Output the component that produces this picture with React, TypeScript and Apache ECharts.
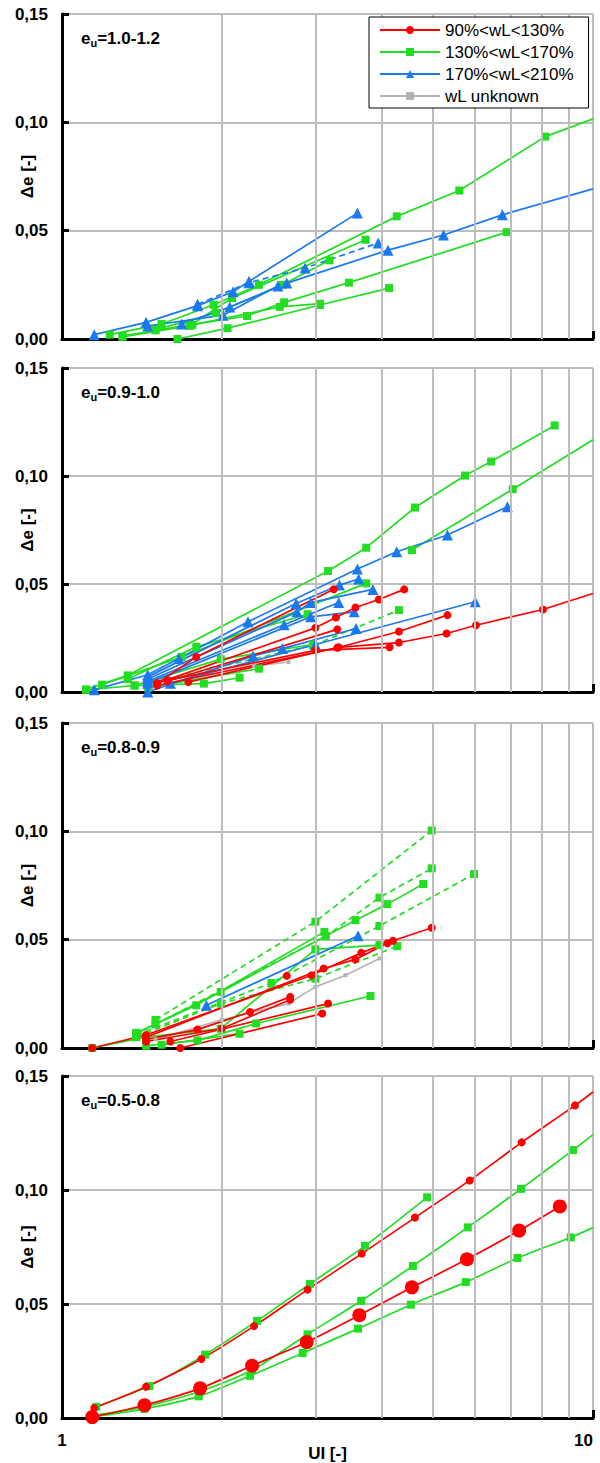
import React, { useEffect, useRef } from "react";
import * as echarts from "echarts";

type Pt = [number, number];

const CATS = ["90%<wL<130%", "130%<wL<170%", "170%<wL<210%", "wL unknown"];
const PANEL_TITLES = ["1.0-1.2", "0.9-1.0", "0.8-0.9", "0.5-0.8"];
const X_GRID = [2, 3, 4, 5, 6, 7, 8, 9];
const X_NAME = "UI [-]";
const Y_NAME = "Δe [-]";

// ---------- panel 1 : eu = 1.0-1.2 ----------
const p1Green: Pt[][] = [
  [[1.23, 0.002], [1.54, 0.0069], [1.93, 0.0158], [2.35, 0.025], [4.27, 0.0566], [5.6, 0.0685], [8.13, 0.0934], [10, 0.1016]],
  [[1.3, 0.001], [1.74, 0.0061], [2.09, 0.0189], [3.73, 0.0458]],
  [[1.5, 0.0043], [1.95, 0.012], [2.6, 0.025], [3.19, 0.0363]],
  [[1.5, 0.004], [2.23, 0.0106], [2.62, 0.0169], [3.47, 0.026], [6.88, 0.0493]],
  [[1.65, 0.0], [2.05, 0.005], [3.06, 0.0157], [4.13, 0.0235]],
  [[1.3, 0.0015], [1.76, 0.0065], [2.57, 0.0148], [3.06, 0.0163]],
];
const p1Blue: Pt[][] = [
  [[1.15, 0.002], [1.44, 0.0077], [1.8, 0.0154], [2.1, 0.0218], [2.25, 0.0266], [3.6, 0.0581]],
  [[1.68, 0.0069], [2.07, 0.0148], [2.65, 0.0258], [4.11, 0.041], [5.23, 0.048], [6.75, 0.0573], [10, 0.0693]],
  [[1.45, 0.006], [2.01, 0.011], [2.55, 0.0245]],
];
const p1BlueDashed: Pt[][] = [
  [[1.8, 0.016], [2.25, 0.026], [2.87, 0.0328], [3.94, 0.0443]],
];

// ---------- panel 2 : eu = 0.9-1.0 ----------
const p2Green: Pt[][] = [
  [[1.11, 0.0012], [1.33, 0.0077], [3.17, 0.056], [3.74, 0.0668], [4.62, 0.0854], [5.74, 0.1002], [6.43, 0.1067], [8.47, 0.1234]],
  [[4.56, 0.0657], [7.06, 0.0939], [10, 0.1168]],
  [[1.19, 0.0034], [1.68, 0.0162], [3.74, 0.0503]],
  [[1.11, 0.001], [1.37, 0.003], [1.85, 0.0039], [2.16, 0.0066]],
  [[1.33, 0.006], [1.79, 0.0209], [2.9, 0.036]],
  [[1.37, 0.003], [1.99, 0.0152], [2.97, 0.022]],
  [[1.45, 0.002], [2.35, 0.0108]],
];
const p2GreenDashed: Pt[][] = [
  [[1.45, 0.004], [2.97, 0.0216], [4.31, 0.0379]],
];
const p2Blue: Pt[][] = [
  [[1.15, 0.001], [1.45, 0.008], [1.66, 0.0155], [2.24, 0.0325], [3.6, 0.0569], [4.27, 0.0649], [5.32, 0.0727], [6.9, 0.0858]],
  [[1.45, 0.007], [2.76, 0.041], [3.33, 0.0495], [3.62, 0.0523]],
  [[1.45, 0.006], [2.77, 0.0371], [2.94, 0.0414], [3.85, 0.0475]],
  [[1.45, 0.005], [2.62, 0.0311], [3.32, 0.0414]],
  [[1.45, 0.004], [2.94, 0.0348], [3.55, 0.0371]],
  [[1.45, 0.0], [2.29, 0.0167], [2.6, 0.0201], [3.58, 0.0294]],
  [[1.6, 0.004], [3.0, 0.022], [6.0, 0.0418]],
];
const p2Red: Pt[][] = [
  [[1.51, 0.004], [1.79, 0.0162], [3.25, 0.0476]],
  [[1.51, 0.004], [3.0, 0.0297], [3.28, 0.0345], [3.57, 0.0391], [3.95, 0.0428], [4.41, 0.0475]],
  [[1.51, 0.003], [3.3, 0.0205], [4.31, 0.028], [5.32, 0.0356]],
  [[1.73, 0.0046], [3.32, 0.0207], [4.31, 0.0229], [5.3, 0.0271], [6.02, 0.0309], [8.05, 0.0382], [10, 0.0456]],
  [[1.58, 0.0054], [3.0, 0.0193], [4.14, 0.0207]],
  [[1.58, 0.005], [3.3, 0.029]],
];
const p2Gray: Pt[][] = [
  [[2.3, 0.012], [2.67, 0.0139]],
];

// ---------- panel 3 : eu = 0.8-0.9 ----------
const p3Green: Pt[][] = [
  [[1.38, 0.0066], [1.99, 0.0259], [3.57, 0.059], [4.1, 0.0664], [4.79, 0.0757]],
  [[1.44, 0.001], [1.8, 0.0035], [2.32, 0.0113], [3.81, 0.024]],
  [[1.54, 0.0015], [2.16, 0.0066]],
  [[1.38, 0.007], [1.79, 0.0197], [3.12, 0.0536]],
  [[1.14, 0.0], [1.44, 0.005], [1.99, 0.0089], [3.0, 0.0455], [3.96, 0.0475]],
];
const p3GreenDashed: Pt[][] = [
  [[1.5, 0.013], [3.0, 0.0583], [4.97, 0.1004]],
  [[1.5, 0.011], [3.14, 0.0516], [3.96, 0.0694], [4.97, 0.0829]],
  [[1.38, 0.006], [2.48, 0.03], [3.96, 0.0563], [5.97, 0.0803]],
  [[1.38, 0.005], [1.99, 0.0205], [3.0, 0.032], [4.28, 0.047]],
];
const p3Blue: Pt[][] = [
  [[1.87, 0.0197], [3.61, 0.0518]],
];
const p3Red: Pt[][] = [
  [[1.14, 0.0], [1.44, 0.006], [2.95, 0.0336], [3.66, 0.0439], [4.2, 0.0495], [4.97, 0.0555]],
  [[1.44, 0.005], [3.11, 0.0367], [3.57, 0.0409], [4.1, 0.0483]],
  [[1.44, 0.004], [1.8, 0.0085], [2.26, 0.0166], [2.69, 0.0236]],
  [[1.44, 0.003], [2.0, 0.009], [2.69, 0.0223]],
  [[1.67, 0.0], [3.09, 0.0159]],
  [[1.6, 0.003], [3.17, 0.0205]],
  [[2.65, 0.0333]],
];
const p3Gray: Pt[][] = [
  [[1.5, 0.004], [2.0, 0.013], [2.67, 0.0205], [3.0, 0.0282], [3.42, 0.0336], [3.96, 0.0413]],
];

// ---------- panel 4 : eu = 0.5-0.8 ----------
const p4RedSmall: Pt[][] = [
  [[1.15, 0.0044], [1.44, 0.0137], [1.83, 0.0259], [2.3, 0.0403], [2.9, 0.0563], [3.67, 0.0721], [4.62, 0.0879], [5.86, 0.1042], [7.34, 0.1209], [9.25, 0.1371], [10, 0.143]],
];
const p4RedBig: Pt[][] = [
  [[1.14, 0.0004], [1.43, 0.0056], [1.82, 0.013], [2.28, 0.0229], [2.89, 0.0333], [3.63, 0.0451], [4.56, 0.0573], [5.79, 0.0696], [7.26, 0.0822], [8.66, 0.0928]],
];
const p4Green: Pt[][] = [
  [[1.16, 0.0049], [1.46, 0.014], [1.86, 0.0278], [2.33, 0.0426], [2.93, 0.0588], [3.72, 0.0755], [4.87, 0.0968]],
  [[1.14, 0.001], [1.43, 0.005], [1.81, 0.0115], [2.28, 0.021], [2.9, 0.0367], [3.66, 0.0514], [4.58, 0.0667], [5.81, 0.0836], [7.32, 0.1005], [9.17, 0.1175], [10, 0.1243]],
  [[1.14, 0.0005], [1.43, 0.004], [1.81, 0.0095], [2.26, 0.0185], [2.84, 0.0285], [3.61, 0.0392], [4.54, 0.0497], [5.76, 0.0596], [7.21, 0.0702], [9.08, 0.0792], [10, 0.0835]],
];

// ---------- layout / style ----------
const PANELS = [
  { top: 14, h: 325 },
  { top: 368, h: 324 },
  { top: 723, h: 325 },
  { top: 1076, h: 342 },
];
const FONT = "'Liberation Sans', Arial, Helvetica, sans-serif";
const GRID_COLOR = "#bdbdbd";

const STY: Record<string, { name: string; color: string; symbol: string; size: number }> = {
  red: { name: CATS[0], color: "#ff0000", symbol: "circle", size: 8 },
  green: { name: CATS[1], color: "#22dd22", symbol: "rect", size: 8 },
  blue: { name: CATS[2], color: "#1a78f0", symbol: "triangle", size: 11 },
  gray: { name: CATS[3], color: "#b4b4b4", symbol: "rect", size: 4 },
};

function mk(panel: number, cat: string, sets: Pt[][], opt: { dashed?: boolean; size?: number; smooth?: number } = {}) {
  const s = STY[cat];
  return sets.map((pts) => ({
    type: "line",
    name: s.name,
    xAxisIndex: panel,
    yAxisIndex: panel,
    data: pts.map((p) => (p[0] >= 10 ? { value: p, symbol: "none" } : p)),
    symbol: s.symbol,
    symbolSize: opt.size ?? s.size,
    showAllSymbol: true,
    smooth: opt.smooth ?? false,
    lineStyle: { color: s.color, width: 1.7, type: opt.dashed ? [6, 4] : "solid" },
    itemStyle: { color: s.color },
    emphasis: { disabled: true },
    z: 3,
  }));
}

function gridSeries(panel: number) {
  return {
    type: "line",
    name: "grid" + panel,
    xAxisIndex: panel,
    yAxisIndex: panel,
    data: [],
    silent: true,
    z: 1,
    markLine: {
      silent: true,
      symbol: "none",
      label: { show: false },
      animation: false,
      lineStyle: { color: GRID_COLOR, width: 2, type: "solid" },
      data: X_GRID.map((v) => ({ xAxis: v })),
    },
  };
}

export default function App() {
  const ref = useRef<HTMLDivElement>(null);
  useEffect(() => {
    if (!ref.current) return;
    const chart = echarts.init(ref.current, undefined, { renderer: "svg" });

    const series: any[] = [];
    series.push(gridSeries(0));
    series.push(...mk(0, "green", p1Green));
    series.push(...mk(0, "blue", p1Blue));
    series.push(...mk(0, "blue", p1BlueDashed, { dashed: true }));
    series.push(gridSeries(1));
    series.push(...mk(1, "gray", p2Gray));
    series.push(...mk(1, "green", p2Green));
    series.push(...mk(1, "green", p2GreenDashed, { dashed: true }));
    series.push(...mk(1, "blue", p2Blue));
    series.push(...mk(1, "red", p2Red));
    series.push(gridSeries(2));
    series.push(...mk(2, "gray", p3Gray));
    series.push(...mk(2, "green", p3Green));
    series.push(...mk(2, "green", p3GreenDashed, { dashed: true }));
    series.push(...mk(2, "blue", p3Blue));
    series.push(...mk(2, "red", p3Red));
    series.push(gridSeries(3));
    series.push(...mk(3, "green", p4Green, { smooth: 0.25 }));
    series.push(...mk(3, "red", p4RedSmall, { smooth: 0.25, size: 8 }));
    series.push(...mk(3, "red", p4RedBig, { smooth: 0.25, size: 14 }));

    const bold = { fontFamily: FONT, fontWeight: "bold" as const, fontSize: 17, color: "#000" };

    chart.setOption({
      animation: false,
      backgroundColor: "#fff",
      grid: PANELS.map((p) => ({
        left: 62,
        right: 7,
        top: p.top,
        height: p.h,
        containLabel: false,
        outerBoundsMode: "none",
      })),
      xAxis: PANELS.map((_, i) => ({
        type: "log",
        logBase: 10,
        gridIndex: i,
        min: 1,
        max: 10,
        axisLine: { show: true, onZero: false, lineStyle: { color: "#000", width: 3 } },
        axisTick: { show: true, inside: true, length: 8, lineStyle: { color: "#000", width: 3 } },
        axisLabel: { show: i === 3, margin: 14, alignMaxLabel: "right", ...bold },
        splitLine: { show: true, lineStyle: { color: GRID_COLOR, width: 2 } },
        minorTick: { show: false },
        name: i === 3 ? X_NAME : "",
        nameLocation: "middle",
        nameGap: 27,
        nameMoveOverlap: false,
        nameTextStyle: bold,
      })),
      yAxis: PANELS.map((_, i) => ({
        type: "value",
        gridIndex: i,
        min: 0,
        max: 0.15,
        interval: 0.05,
        axisLine: { show: true, onZero: false, lineStyle: { color: "#000", width: 3 } },
        axisTick: { show: true, inside: true, length: 7, lineStyle: { color: "#000", width: 3 } },
        axisLabel: {
          margin: 14,
          ...bold,
          formatter: (v: number) => v.toFixed(2).replace(".", ","),
        },
        splitLine: { show: true, lineStyle: { color: GRID_COLOR, width: 2 } },
        name: Y_NAME,
        nameLocation: "middle",
        nameGap: 26,
        nameRotate: 90,
        nameMoveOverlap: false,
        nameTextStyle: bold,
      })),
      legend: {
        data: CATS,
        orient: "vertical",
        left: 369,
        top: 17,
        padding: [4, 15, 3, 10],
        itemWidth: 60,
        itemHeight: 10,
        itemGap: 4,
        itemTextGap: 7,
        selectedMode: false,
        backgroundColor: "#fff",
        borderColor: "#000",
        borderWidth: 1,
        borderRadius: 0,
        z: 10,
        textStyle: { fontFamily: FONT, fontSize: 17, color: "#000", lineHeight: 18 },
      },
      graphic: PANELS.map((p, i) => ({
        type: "text",
        left: 81,
        top: p.top + 16,
        z: 10,
        style: {
          text: "{m|e}{s|u}{m|=" + PANEL_TITLES[i] + "}",
          fill: "#000",
          rich: {
            m: { fontFamily: FONT, fontWeight: "bold", fontSize: 17, lineHeight: 20, fill: "#000" },
            s: { fontFamily: FONT, fontWeight: "bold", fontSize: 11, lineHeight: 11, verticalAlign: "bottom", fill: "#000" },
          },
        },
      })),
      series,
    });

    return () => chart.dispose();
  }, []);

  return (
    <div
      ref={ref}
      style={{ position: "absolute", left: 0, top: 0, width: 600, height: 1463, background: "#fff" }}
    />
  );
}
